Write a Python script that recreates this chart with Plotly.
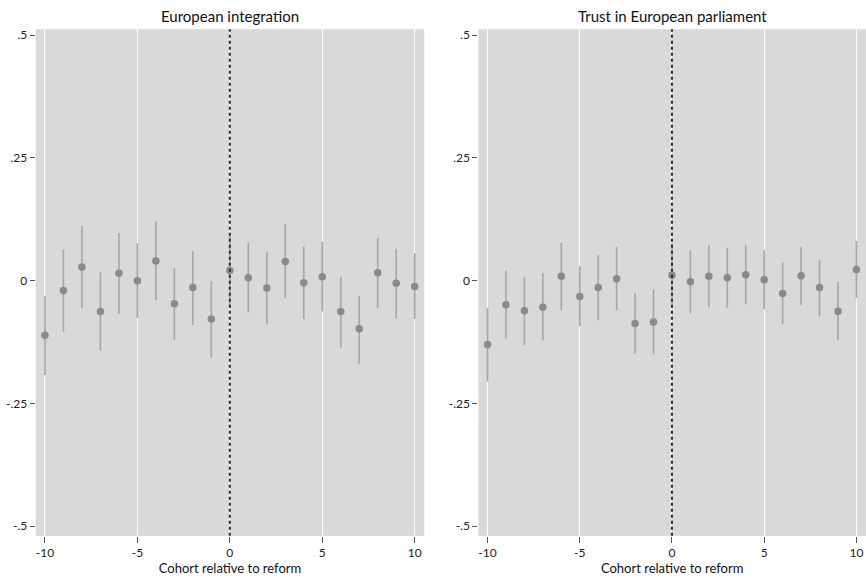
import plotly.graph_objects as go

cohorts = list(range(-10, 11))

# Panel 1: European integration
integ_est = [-0.111, -0.020, 0.028, -0.063, 0.015, 0.000, 0.040, -0.047, -0.014, -0.078,
             0.021, 0.006, -0.015, 0.039, -0.004, 0.008, -0.063, -0.098, 0.016, -0.005, -0.012]
integ_hi = [-0.031, 0.063, 0.112, 0.017, 0.097, 0.076, 0.120, 0.026, 0.060, -0.001,
            0.096, 0.078, 0.058, 0.115, 0.069, 0.080, 0.008, -0.031, 0.087, 0.065, 0.056]
integ_lo = [-0.192, -0.104, -0.056, -0.142, -0.068, -0.076, -0.040, -0.121, -0.090, -0.157,
            -0.054, -0.065, -0.089, -0.036, -0.078, -0.063, -0.136, -0.169, -0.056, -0.077, -0.078]

# Panel 2: Trust in European parliament
trust_est = [-0.130, -0.049, -0.061, -0.054, 0.009, -0.032, -0.014, 0.004, -0.087, -0.084,
             0.011, -0.002, 0.009, 0.006, 0.012, 0.002, -0.026, 0.010, -0.014, -0.062, 0.023]
trust_hi = [-0.055, 0.021, 0.008, 0.015, 0.077, 0.029, 0.052, 0.069, -0.025, -0.018,
            0.076, 0.062, 0.072, 0.067, 0.073, 0.062, 0.037, 0.069, 0.043, -0.002, 0.081]
trust_lo = [-0.206, -0.119, -0.131, -0.122, -0.060, -0.093, -0.081, -0.060, -0.149, -0.150,
            -0.054, -0.067, -0.054, -0.055, -0.048, -0.058, -0.089, -0.050, -0.073, -0.121, -0.035]

panel_titles = ["European integration", "Trust in European parliament"]
x_ticks = [-10, -5, 0, 5, 10]
x_ticktext = ["-10", "-5", "0", "5", "10"]
y_ticks = [-0.5, -0.25, 0, 0.25, 0.5]
y_ticktext = ["-.5", "-.25", "0", ".25", ".5"]
reform_cohort = 0
x_title = "Cohort relative to reform"

W, H = 866, 578
FONT = "Lato"
MARKER_C = "#8a8a8a"
BAR_C = "#a6a6a6"
BG = "#d9d9d9"

fig = go.Figure()

panels = [(integ_est, integ_lo, integ_hi), (trust_est, trust_lo, trust_hi)]
for i, (est, lo, hi) in enumerate(panels):
    plus = [h - e for h, e in zip(hi, est)]
    minus = [e - l for e, l in zip(est, lo)]
    suffix = "" if i == 0 else "2"
    fig.add_trace(go.Scatter(
        x=cohorts, y=est, mode="markers",
        marker=dict(color=MARKER_C, size=7.5),
        error_y=dict(type="data", array=plus, arrayminus=minus, symmetric=False,
                     color=BAR_C, thickness=1.6, width=0),
        xaxis="x" + suffix, yaxis="y" + suffix, showlegend=False,
    ))

y_dom = [1 - 535.7 / H, 1 - 27.3 / H]
x_doms = [[35.7 / W, 424.3 / W], [478.3 / W, 1.0]]

common_x = dict(range=[-10.5, 10.52], tickvals=x_ticks, ticktext=x_ticktext,
                showgrid=True, gridcolor="white", gridwidth=1.3, zeroline=False,
                ticks="outside", ticklen=6, tickcolor="#555", tickwidth=1,
                showline=False, tickfont=dict(family=FONT, size=12, color="#222"),
                title=dict(text=x_title, font=dict(family=FONT, size=13, color="#111"), standoff=0))
common_y = dict(range=[-0.5197, 0.5122], tickvals=y_ticks, ticktext=y_ticktext,
                showgrid=False, zeroline=False, ticks="outside", ticklen=5,
                tickcolor="#555", tickwidth=1, showline=False,
                tickfont=dict(family=FONT, size=12, color="#222"))

fig.update_layout(
    width=W, height=H,
    margin=dict(l=0, r=0, t=0, b=0),
    paper_bgcolor="white", plot_bgcolor=BG,
    xaxis=dict(domain=x_doms[0], anchor="y", **common_x),
    yaxis=dict(domain=y_dom, anchor="x", **common_y),
    xaxis2=dict(domain=x_doms[1], anchor="y2", **common_x),
    yaxis2=dict(domain=y_dom, anchor="x2", **common_y),
    shapes=[
        dict(type="line", xref=xr, yref=yr + " domain", x0=reform_cohort, x1=reform_cohort,
             y0=0, y1=1, line=dict(color="#2a2a2a", width=2, dash="3px,3px"), layer="above")
        for xr, yr in [("x", "y"), ("x2", "y2")]
    ],
    annotations=[
        dict(text=t, xref="paper", yref="paper", x=(d[0] + d[1]) / 2, y=1 - 14 / H,
             xanchor="center", yanchor="middle", showarrow=False,
             font=dict(family=FONT, size=15, color="#111"))
        for t, d in zip(panel_titles, [x_doms[0], [478.3 / W, (478.3 + 388.6) / W]])
    ],
)

fig.write_html("out.html")
